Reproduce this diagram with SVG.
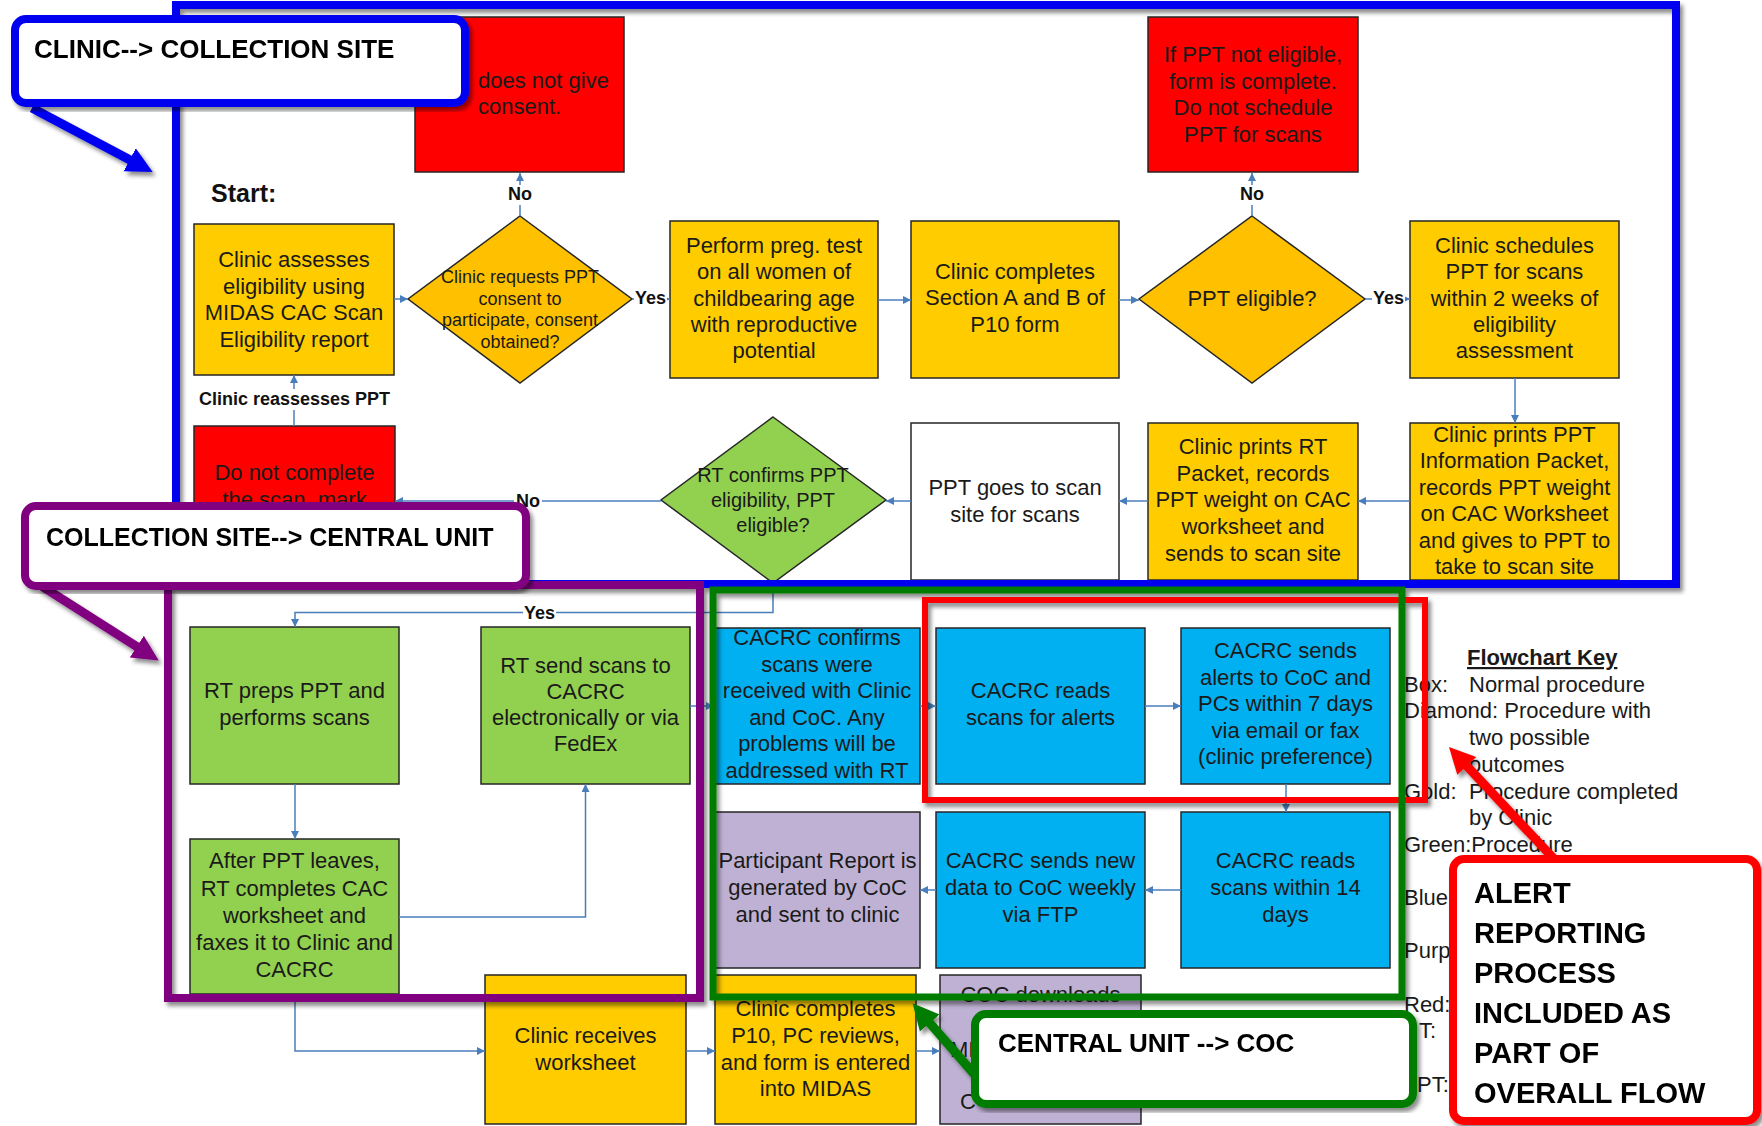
<svg xmlns="http://www.w3.org/2000/svg" width="1762" height="1126" viewBox="0 0 1762 1126">
<defs>
<style>
.bx{stroke:#262626;stroke-width:1.5}
.gold{fill:#FFCC00}.dgold{fill:#FFC000}.red{fill:#FF0000}.grn{fill:#92D050}.blu{fill:#00B0F0}.lav{fill:#BFB1D3}.wht{fill:#FFFFFF}
.t{font-family:"Liberation Sans",Arial,sans-serif;font-size:22px;fill:#1a1a1a;text-anchor:middle}
.ts{font-size:18px}
.tm{font-size:20px}
.ls{text-anchor:start}
.lbl{font-family:"Liberation Sans",Arial,sans-serif;font-size:18px;font-weight:bold;fill:#111;text-anchor:middle}
.bg{fill:#FFFFFF}
.conn{fill:none;stroke:#4A7EBB;stroke-width:1.5}
.key{font-family:"Liberation Sans",Arial,sans-serif;font-size:22px;fill:#1a1a1a}
.frame{fill:none}
.co{fill:#FFFFFF;stroke-width:8}
.cot{font-family:"Liberation Sans",Arial,sans-serif;font-weight:bold;fill:#000}
.big{fill:none;stroke-width:9}
</style>
<marker id="ah" viewBox="0 0 10 10" refX="10" refY="5" markerWidth="9" markerHeight="8" markerUnits="userSpaceOnUse" orient="auto"><path d="M0,0 L10,5 L0,10 z" fill="#4A7EBB"/></marker>
<marker id="abl" viewBox="0 0 10 10" refX="1" refY="5" markerWidth="26" markerHeight="28" markerUnits="userSpaceOnUse" orient="auto"><path d="M0,0 L10,5 L0,10 z" fill="#0000F0"/></marker>
<marker id="apu" viewBox="0 0 10 10" refX="1" refY="5" markerWidth="26" markerHeight="28" markerUnits="userSpaceOnUse" orient="auto"><path d="M0,0 L10,5 L0,10 z" fill="#800080"/></marker>
<marker id="agr" viewBox="0 0 10 10" refX="1" refY="5" markerWidth="26" markerHeight="28" markerUnits="userSpaceOnUse" orient="auto"><path d="M0,0 L10,5 L0,10 z" fill="#007B00"/></marker>
<marker id="are" viewBox="0 0 10 10" refX="1" refY="5" markerWidth="26" markerHeight="28" markerUnits="userSpaceOnUse" orient="auto"><path d="M0,0 L10,5 L0,10 z" fill="#FF0000"/></marker>
<filter id="sh" x="-5%" y="-5%" width="112%" height="115%"><feDropShadow dx="3" dy="4" stdDeviation="2" flood-color="#000" flood-opacity="0.45"/></filter>
</defs>
<rect x="0" y="0" width="1762" height="1126" fill="#FFFFFF"/>

<text x="211" y="202" font-family="Liberation Sans, Arial, sans-serif" font-size="25" font-weight="bold" fill="#111">Start:</text>

<g id="n1"><rect class="bx gold" x="194" y="224" width="200" height="151"/>
<text class="t"><tspan x="294" y="267">Clinic assesses</tspan><tspan x="294" y="293.5">eligibility using</tspan><tspan x="294" y="320">MIDAS CAC Scan</tspan><tspan x="294" y="346.5">Eligibility report</tspan></text></g>

<g id="d1"><polygon class="bx dgold" points="520,216 632,299 520,383 408,299"/>
<text class="t ts"><tspan x="520" y="283">Clinic requests PPT</tspan><tspan x="520" y="305">consent to</tspan><tspan x="520" y="326">participate, consent</tspan><tspan x="520" y="348">obtained?</tspan></text></g>

<g id="r1"><rect class="bx red" x="415" y="17" width="209" height="155"/>
<text class="t ls"><tspan x="478" y="88">does not give</tspan><tspan x="478" y="114">consent.</tspan></text></g>

<g id="n2"><rect class="bx gold" x="670" y="221" width="208" height="157"/>
<text class="t"><tspan x="774" y="253">Perform preg. test</tspan><tspan x="774" y="279">on all women of</tspan><tspan x="774" y="305.5">childbearing age</tspan><tspan x="774" y="332">with reproductive</tspan><tspan x="774" y="358">potential</tspan></text></g>

<g id="n3"><rect class="bx gold" x="911" y="221" width="208" height="157"/>
<text class="t"><tspan x="1015" y="278.5">Clinic completes</tspan><tspan x="1015" y="305">Section A and B of</tspan><tspan x="1015" y="331.5">P10 form</tspan></text></g>

<g id="d2"><polygon class="bx dgold" points="1252,216 1365,299 1252,383 1139,299"/>
<text class="t"><tspan x="1252" y="306">PPT eligible?</tspan></text></g>

<g id="r2"><rect class="bx red" x="1148" y="17" width="210" height="155"/>
<text class="t"><tspan x="1253" y="62">If PPT not eligible,</tspan><tspan x="1253" y="88.7">form is complete.</tspan><tspan x="1253" y="115.4">Do not schedule</tspan><tspan x="1253" y="142">PPT for scans</tspan></text></g>

<g id="n4"><rect class="bx gold" x="1410" y="221" width="209" height="157"/>
<text class="t"><tspan x="1514.5" y="253">Clinic schedules</tspan><tspan x="1514.5" y="279">PPT for scans</tspan><tspan x="1514.5" y="305.5">within 2 weeks of</tspan><tspan x="1514.5" y="332">eligibility</tspan><tspan x="1514.5" y="358">assessment</tspan></text></g>

<g id="n5"><rect class="bx gold" x="1410" y="423" width="209" height="157"/>
<text class="t"><tspan x="1514.5" y="442">Clinic prints PPT</tspan><tspan x="1514.5" y="468.4">Information Packet,</tspan><tspan x="1514.5" y="494.8">records PPT weight</tspan><tspan x="1514.5" y="521.2">on CAC Worksheet</tspan><tspan x="1514.5" y="547.6">and gives to PPT to</tspan><tspan x="1514.5" y="574">take to scan site</tspan></text></g>

<g id="n6"><rect class="bx gold" x="1148" y="423" width="210" height="157"/>
<text class="t"><tspan x="1253" y="454">Clinic prints RT</tspan><tspan x="1253" y="480.7">Packet, records</tspan><tspan x="1253" y="507.4">PPT weight on CAC</tspan><tspan x="1253" y="534.1">worksheet and</tspan><tspan x="1253" y="560.8">sends to scan site</tspan></text></g>

<g id="n7"><rect class="bx wht" x="911" y="423" width="208" height="157"/>
<text class="t"><tspan x="1015" y="495">PPT goes to scan</tspan><tspan x="1015" y="522">site for scans</tspan></text></g>

<g id="d3"><polygon class="bx grn" points="773,417 886,500 773,583 661,500"/>
<text class="t tm"><tspan x="773" y="482">RT confirms PPT</tspan><tspan x="773" y="507">eligibility, PPT</tspan><tspan x="773" y="532">eligible?</tspan></text></g>

<g id="r3"><rect class="bx red" x="194" y="426" width="201" height="154"/>
<text class="t"><tspan x="294.5" y="480">Do not complete</tspan><tspan x="294.5" y="506.5">the scan, mark</tspan></text></g>

<g id="g1"><rect class="bx grn" x="190" y="627" width="209" height="157"/>
<text class="t"><tspan x="294.5" y="698">RT preps PPT and</tspan><tspan x="294.5" y="725">performs scans</tspan></text></g>

<g id="g2"><rect class="bx grn" x="481" y="627" width="209" height="157"/>
<text class="t"><tspan x="585.5" y="672.5">RT send scans to</tspan><tspan x="585.5" y="698.5">CACRC</tspan><tspan x="585.5" y="724.5">electronically or via</tspan><tspan x="585.5" y="750.5">FedEx</tspan></text></g>

<g id="g3"><rect class="bx grn" x="190" y="839" width="209" height="155"/>
<text class="t"><tspan x="294.5" y="868">After PPT leaves,</tspan><tspan x="294.5" y="895.5">RT completes CAC</tspan><tspan x="294.5" y="922.5">worksheet and</tspan><tspan x="294.5" y="949.5">faxes it to Clinic and</tspan><tspan x="294.5" y="976.5">CACRC</tspan></text></g>

<g id="b1"><rect class="bx blu" x="714" y="628" width="206" height="156"/>
<text class="t"><tspan x="817" y="645">CACRC confirms</tspan><tspan x="817" y="671.5">scans were</tspan><tspan x="817" y="698">received with Clinic</tspan><tspan x="817" y="724.5">and CoC. Any</tspan><tspan x="817" y="751">problems will be</tspan><tspan x="817" y="777.5">addressed with RT</tspan></text></g>

<g id="b2"><rect class="bx blu" x="936" y="628" width="209" height="156"/>
<text class="t"><tspan x="1040.5" y="698">CACRC reads</tspan><tspan x="1040.5" y="725">scans for alerts</tspan></text></g>

<g id="b3"><rect class="bx blu" x="1181" y="628" width="209" height="156"/>
<text class="t"><tspan x="1285.5" y="658">CACRC sends</tspan><tspan x="1285.5" y="684.5">alerts to CoC and</tspan><tspan x="1285.5" y="711">PCs within 7 days</tspan><tspan x="1285.5" y="737.5">via email or fax</tspan><tspan x="1285.5" y="764">(clinic preference)</tspan></text></g>

<g id="b4"><rect class="bx blu" x="1181" y="812" width="209" height="156"/>
<text class="t"><tspan x="1285.5" y="868">CACRC reads</tspan><tspan x="1285.5" y="895">scans within 14</tspan><tspan x="1285.5" y="922">days</tspan></text></g>

<g id="b5"><rect class="bx blu" x="936" y="812" width="209" height="156"/>
<text class="t"><tspan x="1040.5" y="868">CACRC sends new</tspan><tspan x="1040.5" y="895">data to CoC weekly</tspan><tspan x="1040.5" y="922">via FTP</tspan></text></g>

<g id="p1"><rect class="bx lav" x="715" y="812" width="205" height="156"/>
<text class="t"><tspan x="817.5" y="868">Participant Report is</tspan><tspan x="817.5" y="895">generated by CoC</tspan><tspan x="817.5" y="922">and sent to clinic</tspan></text></g>

<g id="y1"><rect class="bx gold" x="485" y="975" width="201" height="149"/>
<text class="t"><tspan x="585.5" y="1043">Clinic receives</tspan><tspan x="585.5" y="1070">worksheet</tspan></text></g>

<g id="y2"><rect class="bx gold" x="715" y="975" width="201" height="149"/>
<text class="t"><tspan x="815.5" y="1016">Clinic completes</tspan><tspan x="815.5" y="1043">P10, PC reviews,</tspan><tspan x="815.5" y="1069.5">and form is entered</tspan><tspan x="815.5" y="1096">into MIDAS</tspan></text></g>

<g id="p2"><rect class="bx lav" x="940" y="975" width="201" height="149"/>
<text class="t"><tspan x="1040.5" y="1002">COC downloads</tspan></text>
<text class="t ls"><tspan x="950" y="1057">MI</tspan><tspan x="960" y="1109">C</tspan></text></g>

<g id="connectors">
<path class="conn" marker-end="url(#ah)" d="M394,299 H408"/>
<path class="conn" marker-end="url(#ah)" d="M520,216 V173"/>
<path class="conn" marker-end="url(#ah)" d="M632,299 H670"/>
<path class="conn" marker-end="url(#ah)" d="M878,300 H911"/>
<path class="conn" marker-end="url(#ah)" d="M1119,300 H1139"/>
<path class="conn" marker-end="url(#ah)" d="M1252,216 V173"/>
<path class="conn" marker-end="url(#ah)" d="M1365,299 H1410"/>
<path class="conn" marker-end="url(#ah)" d="M1515,378 V423"/>
<path class="conn" marker-end="url(#ah)" d="M1410,501 H1358"/>
<path class="conn" marker-end="url(#ah)" d="M1148,501 H1119"/>
<path class="conn" marker-end="url(#ah)" d="M911,501 H886"/>
<path class="conn" marker-end="url(#ah)" d="M661,501 H395"/>
<path class="conn" marker-end="url(#ah)" d="M294,426 V375"/>
<path class="conn" marker-end="url(#ah)" d="M773,583 V612.5 H295 V627"/>
<path class="conn" marker-end="url(#ah)" d="M295,784 V839"/>
<path class="conn" marker-end="url(#ah)" d="M399,917 H585.5 V784"/>
<path class="conn" marker-end="url(#ah)" d="M295,994 V1051 H485"/>
<path class="conn" marker-end="url(#ah)" d="M690,706 H714"/>
<path class="conn" marker-end="url(#ah)" d="M920,706 H936"/>
<path class="conn" marker-end="url(#ah)" d="M1145,706 H1181"/>
<path class="conn" marker-end="url(#ah)" d="M1286,784 V812"/>
<path class="conn" marker-end="url(#ah)" d="M1181,890 H1145"/>
<path class="conn" marker-end="url(#ah)" d="M936,890 H920"/>
<path class="conn" marker-end="url(#ah)" d="M686,1051 H715"/>
<path class="conn" marker-end="url(#ah)" d="M916,1051 H940"/>
<rect class="bg" x="506" y="185" width="28" height="20"/><text class="lbl" x="520" y="200">No</text>
<rect class="bg" x="1238" y="185" width="28" height="20"/><text class="lbl" x="1252" y="200">No</text>
<rect class="bg" x="634" y="289" width="33" height="20"/><text class="lbl" x="650.5" y="304">Yes</text>
<rect class="bg" x="1372" y="289" width="33" height="20"/><text class="lbl" x="1388.5" y="304">Yes</text>
<rect class="bg" x="514" y="491" width="28" height="20"/><text class="lbl" x="528" y="507">No</text>
<rect class="bg" x="523" y="603" width="33" height="20"/><text class="lbl" x="539.5" y="619">Yes</text>
<rect class="bg" x="194" y="389" width="201" height="21"/><text class="lbl" x="294.5" y="405">Clinic reassesses PPT</text>
</g>

<g id="key">
<text class="key" x="1467" y="665" font-weight="bold" text-decoration="underline">Flowchart Key</text>
<text class="key" x="1404" y="692">Box:</text><text class="key" x="1469" y="692">Normal procedure</text>
<text class="key" x="1404" y="718">Diamond: Procedure with</text>
<text class="key" x="1469" y="745">two possible</text>
<text class="key" x="1469" y="772">outcomes</text>
<text class="key" x="1404" y="799">Gold:</text><text class="key" x="1469" y="799">Procedure completed</text>
<text class="key" x="1469" y="825">by Clinic</text>
<text class="key" x="1404" y="852">Green:Procedure</text>
<text class="key" x="1404" y="905">Blue</text>
<text class="key" x="1404" y="958">Purp</text>
<text class="key" x="1404" y="1012">Red:</text>
<text class="key" x="1419" y="1038">T:</text>
<text class="key" x="1417" y="1092">PT:</text>
</g>

<g id="frames" filter="url(#sh)">
<rect class="frame" x="176" y="5" width="1500" height="579" stroke="#0000F0" stroke-width="8"/>
<rect class="frame" x="168" y="585" width="532" height="413" stroke="#800080" stroke-width="8"/>
<rect class="frame" x="925" y="600" width="500" height="200" stroke="#FF0000" stroke-width="6"/>
<rect class="frame" x="713" y="590" width="689" height="407" stroke="#007B00" stroke-width="7"/>
</g>

<g id="callout-arrows" filter="url(#sh)">
<line class="big" x1="32" y1="108" x2="132" y2="161" stroke="#0000F0" marker-end="url(#abl)"/>
<line class="big" x1="40" y1="585" x2="139" y2="648" stroke="#800080" marker-end="url(#apu)"/>
<line class="big" x1="975" y1="1075" x2="928" y2="1021" stroke="#007B00" marker-end="url(#agr)"/>
<line class="big" x1="1555" y1="860" x2="1465" y2="764" stroke="#FF0000" marker-end="url(#are)"/>
</g>

<g id="callout1" filter="url(#sh)"><rect class="co" x="15" y="19" width="450" height="84" rx="11" stroke="#0000F0"/>
<text class="cot" x="34" y="58" font-size="26">CLINIC--&gt; COLLECTION SITE</text></g>

<g id="callout2" filter="url(#sh)"><rect class="co" x="25" y="506" width="501" height="80" rx="11" stroke="#800080"/>
<text class="cot" x="46" y="546" font-size="25">COLLECTION SITE--&gt; CENTRAL UNIT</text></g>

<g id="callout3" filter="url(#sh)"><rect class="co" x="975" y="1014" width="438" height="90" rx="11" stroke="#007B00"/>
<text class="cot" x="998" y="1052" font-size="26">CENTRAL UNIT --&gt; COC</text></g>

<g id="callout4" filter="url(#sh)"><rect class="co" x="1453" y="859" width="304" height="262" rx="11" stroke="#FF0000"/>
<text class="cot" font-size="29"><tspan x="1474" y="903">ALERT</tspan><tspan x="1474" y="943">REPORTING</tspan><tspan x="1474" y="983">PROCESS</tspan><tspan x="1474" y="1023">INCLUDED AS</tspan><tspan x="1474" y="1063">PART OF</tspan><tspan x="1474" y="1103">OVERALL FLOW</tspan></text></g>
</svg>
